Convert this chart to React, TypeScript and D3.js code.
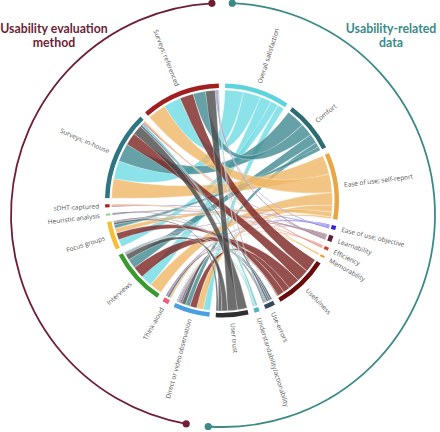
import React from 'react';
import * as d3 from 'd3';

const dataTypes = [
  'Overall satisfaction',
  'Comfort',
  'Ease of use; self-report',
  'Ease of use; objective',
  'Learnability',
  'Efficiency',
  'Memorability',
  'Usefulness',
  'Use-errors',
  'Understandability/actionability',
  'User trust',
];
const methods = [
  'Direct or video observation',
  'Think-aloud',
  'Interviews',
  'Focus groups',
  'Heuristic analysis',
  'sDHT-captured',
  'Surveys; in-house',
  'Surveys; referenced',
];

// links per method, in dataTypes order
const directObservation = [7, 5, 7, 1, 1, 1, 0, 7, 2, 1, 4];
const thinkAloud = [0, 0, 2, 1, 0, 0, 0, 1, 2, 0, 0];
const interviews = [12, 10, 13, 0, 1, 0, 0, 12, 1, 1, 6];
const focusGroups = [8, 4, 5, 0, 1, 0, 0, 7, 1, 0, 2];
const heuristicAnalysis = [0, 0, 0, 0, 1, 0, 0, 0, 1, 0, 0];
const sdhtCaptured = [0, 0, 0, 1, 0, 1, 1, 0, 0, 0, 0];
const surveysInHouse = [19, 19, 20, 0, 1, 1, 1, 13, 2, 2, 10];
const surveysReferenced = [18, 13, 19, 1, 1, 0, 0, 14, 1, 1, 10];

const methodRows = [
  directObservation,
  thinkAloud,
  interviews,
  focusGroups,
  heuristicAnalysis,
  sdhtCaptured,
  surveysInHouse,
  surveysReferenced,
];

const dataBandColors = ['#5dd3de', '#2e6b73', '#e9a645', '#3322dd', '#5e1f3c', '#d9402a', '#ee9a22', '#6a0c0c', '#334a5c', '#4fb5bf', '#2f2f2f'];
const dataRibbonColors = ['#6fdbe4', '#3f8a91', '#efb665', '#4433dd', '#6b2c4a', '#e0533a', '#f0a030', '#7a2420', '#3e5566', '#5dbfc8', '#4a4a4a'];
const methodBandColors = ['#4a9fe3', '#e8607f', '#3b9a2f', '#f2c037', '#8fd48a', '#b01f1f', '#2e7583', '#a31f1f'];

const W = 440;
const H = 432;
const cx = 222;
const cy = 200.5;
const bandOuter = 117;
const bandInner = 112.5;
const ribbonR = 110.5;
const labelR = 123;
const padDeg = 3.1;

const oc = { x: 223, y: 215, r: 212 };

function polar(deg: number, r: number) {
  const a = (deg * Math.PI) / 180;
  return [oc.x + r * Math.sin(a), oc.y - r * Math.cos(a)];
}

function arcPath(a0: number, a1: number, sweep: number) {
  const [x0, y0] = polar(a0, oc.r);
  const [x1, y1] = polar(a1, oc.r);
  const large = Math.abs(a1 - a0) > 180 ? 1 : 0;
  return `M${x0},${y0}A${oc.r},${oc.r} 0 ${large} ${sweep} ${x1},${y1}`;
}

export default function App() {
  const names = [...dataTypes, ...methods];
  const n = names.length;
  const nd = dataTypes.length;
  const matrix: number[][] = Array.from({ length: n }, () => new Array(n).fill(0));
  methodRows.forEach((row, j) => {
    row.forEach((v, i) => {
      matrix[i][nd + j] = v;
      matrix[nd + j][i] = v;
    });
  });
  const pad = (padDeg * Math.PI) / 180;
  const chords = d3.chord().padAngle(pad).sortSubgroups(d3.descending)(matrix);
  const rot = pad / 2;
  const shift = (o: any) => ({ ...o, startAngle: o.startAngle + rot, endAngle: o.endAngle + rot });
  const arc = d3.arc<any>().innerRadius(bandInner).outerRadius(bandOuter);
  const ribbon = d3.ribbon<any, any>().radius(ribbonR);
  const bandColor = (i: number) => (i < nd ? dataBandColors[i] : methodBandColors[i - nd]);

  const maroon = '#6e1f36';
  const teal = '#3b8a87';
  const font = '"Open Sans", Roboto, sans-serif';

  const maroonEnds = [357, 190];
  const tealEnds = [2.5, 184];

  return (
    <svg width={W} height={H} style={{ position: 'absolute', left: 0, top: 0, background: '#fff' }}>
      <g>
        <path d={arcPath(maroonEnds[0], maroonEnds[1], 0)} fill="none" stroke={maroon} strokeWidth={1.8} />
        {maroonEnds.map((a, i) => {
          const [x, y] = polar(a, oc.r);
          return <circle key={'m' + i} cx={x} cy={y} r={3.6} fill={maroon} />;
        })}
        <path d={arcPath(tealEnds[0], tealEnds[1], 1)} fill="none" stroke={teal} strokeWidth={1.8} />
        {tealEnds.map((a, i) => {
          const [x, y] = polar(a, oc.r);
          return <circle key={'t' + i} cx={x} cy={y} r={3.6} fill={teal} />;
        })}
      </g>
      <g fontFamily={'Lato, "Open Sans", sans-serif'} fontWeight={700} fontSize={12.3} textAnchor="middle">
        <text x={54} y={32.5} fill={maroon}>Usability evaluation</text>
        <text x={54} y={46.5} fill={maroon}>method</text>
        <text x={391} y={32.5} fill={teal}>Usability-related</text>
        <text x={391} y={46.5} fill={teal}>data</text>
      </g>
      <g transform={`translate(${cx},${cy})`}>
        <g>
          {chords.map((c: any, k: number) => {
            const di = Math.min(c.source.index, c.target.index);
            return (
              <path
                key={k}
                d={ribbon({ source: shift(c.source), target: shift(c.target) }) as string}
                fill={dataRibbonColors[di]}
                fillOpacity={0.8}
                stroke="#fff"
                strokeWidth={0.4}
                strokeOpacity={0.8}
              />
            );
          })}
        </g>
        <g>
          {chords.groups.map((g: any) => (
            <path key={g.index} d={arc(shift(g)) as string} fill={bandColor(g.index)} />
          ))}
        </g>
        <g fontFamily={font} fontSize={6.5} fill="#555">
          {chords.groups.map((g: any) => {
            const mid = ((g.startAngle + g.endAngle) / 2 + rot) * (180 / Math.PI);
            const flip = mid > 180;
            return (
              <text
                key={g.index}
                transform={`rotate(${mid - 90}) translate(${labelR},0)${flip ? ' rotate(180)' : ''}`}
                textAnchor={flip ? 'end' : 'start'}
                dy="0.35em"
              >
                {names[g.index]}
              </text>
            );
          })}
        </g>
      </g>
    </svg>
  );
}
